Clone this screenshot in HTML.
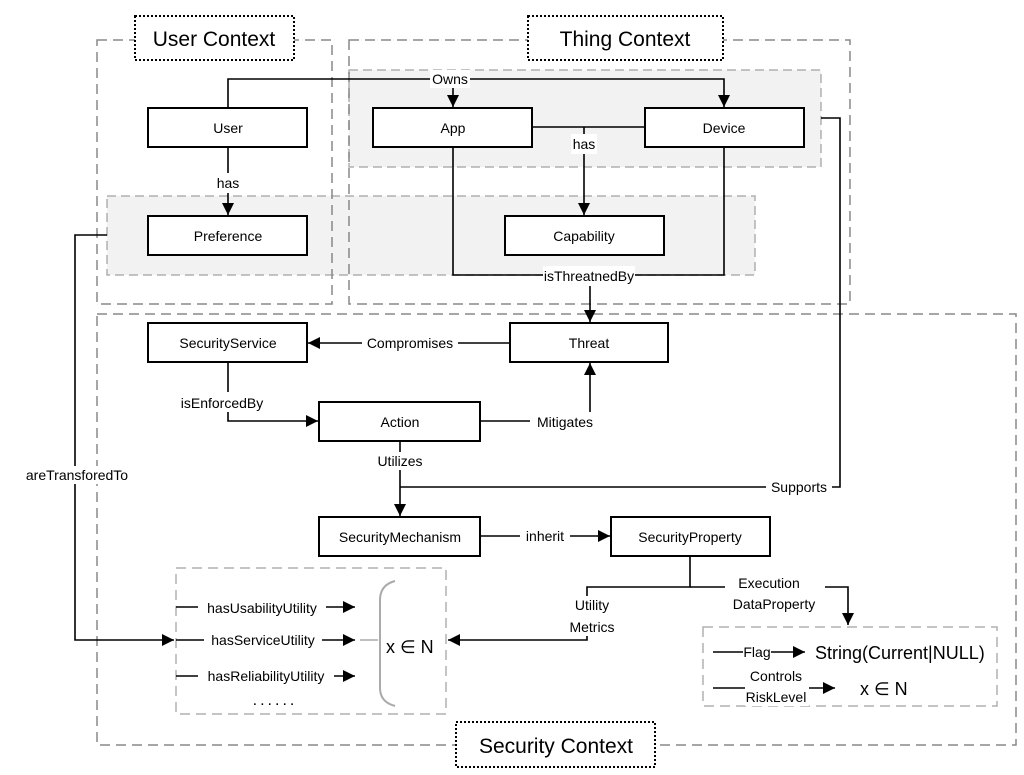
<!DOCTYPE html>
<html><head><meta charset="utf-8"><style>
html,body{margin:0;padding:0;background:#fff;}
svg{display:block;font-family:"Liberation Sans",sans-serif;}
</style></head><body>
<svg width="1024" height="775" viewBox="0 0 1024 775" xmlns="http://www.w3.org/2000/svg">
<defs>
<marker id="b" viewBox="0 0 10 10" refX="10" refY="5" markerWidth="12" markerHeight="12" markerUnits="userSpaceOnUse" orient="auto"><path d="M0,0L10,5L0,10z" fill="#000"/></marker>
</defs>
<rect x="349" y="70" width="472" height="97" fill="#f2f2f2" stroke="#b0b0b0" stroke-width="1.5" stroke-dasharray="9,5"/>
<rect x="107" y="196" width="648" height="79" fill="#f2f2f2" stroke="#b0b0b0" stroke-width="1.5" stroke-dasharray="9,5"/>
<g fill="none" stroke="#888" stroke-width="1.5" stroke-dasharray="10,6">
<rect x="97" y="40" width="235" height="264"/>
<rect x="349" y="40" width="501" height="264"/>
<rect x="97" y="314" width="919" height="431"/>
<rect x="176" y="568" width="270" height="146" stroke="#b0b0b0"/>
<rect x="703" y="627" width="294" height="79" stroke="#b0b0b0"/>
</g>
<g fill="#fff" stroke="#000" stroke-width="2" stroke-dasharray="2,2">
<rect x="135" y="16" width="159" height="44"/>
<rect x="528" y="16" width="195" height="44"/>
<rect x="456" y="722" width="199" height="45"/>
</g>
<g font-size="21" text-anchor="middle" fill="#000">
<text x="214" y="46">User Context</text>
<text x="625" y="46">Thing Context</text>
<text x="556" y="753">Security Context</text>
</g>
<g fill="none" stroke="#000" stroke-width="1.6">
<path d="M228,108V79H724V107" marker-end="url(#b)"/>
<path d="M453,79V107" marker-end="url(#b)"/>
<path d="M532,127H645"/>
<path d="M584,127V215" marker-end="url(#b)"/>
<path d="M228,147V215" marker-end="url(#b)"/>
<path d="M453,147V275H724V147"/>
<path d="M590,275V322" marker-end="url(#b)"/>
<path d="M821,118H840V487H400"/>
<path d="M510,343H308" marker-end="url(#b)"/>
<path d="M228,362V421H318" marker-end="url(#b)"/>
<path d="M480,421H590V363" marker-end="url(#b)"/>
<path d="M400,441V516" marker-end="url(#b)"/>
<path d="M480,536H610" marker-end="url(#b)"/>
<path d="M690,556V587H587V640H448" marker-end="url(#b)"/>
<path d="M690,587H848V625" marker-end="url(#b)"/>
<path d="M107,235H75V640H174" marker-end="url(#b)"/>
<path d="M176,607H355" marker-end="url(#b)"/>
<path d="M176,640H355" marker-end="url(#b)"/>
<path d="M176,676H355" marker-end="url(#b)"/>
<path d="M713,652H805" marker-end="url(#b)"/>
<path d="M713,688H835" marker-end="url(#b)"/>
</g>
<path d="M395,581Q380,585 380,600V688Q380,702 395,706" fill="none" stroke="#aaa" stroke-width="2"/>
<path d="M360,640H378" stroke="#aaa" stroke-width="1.5"/>
<g fill="#fff" stroke="#000" stroke-width="2">
<rect x="148" y="108" width="159" height="39"/>
<rect x="373" y="108" width="159" height="39"/>
<rect x="645" y="108" width="159" height="39"/>
<rect x="148" y="216" width="159" height="39"/>
<rect x="505" y="216" width="159" height="39"/>
<rect x="148" y="323" width="159" height="39"/>
<rect x="510" y="323" width="158" height="39"/>
<rect x="319" y="402" width="161" height="39"/>
<rect x="319" y="517" width="161" height="39"/>
<rect x="611" y="517" width="159" height="39"/>
</g>
<g font-size="14" text-anchor="middle" fill="#000">
<text x="228" y="133">User</text>
<text x="453" y="133">App</text>
<text x="724" y="133">Device</text>
<text x="228" y="241">Preference</text>
<text x="584" y="241">Capability</text>
<text x="228" y="348">SecurityService</text>
<text x="589" y="348">Threat</text>
<text x="400" y="427">Action</text>
<text x="400" y="542">SecurityMechanism</text>
<text x="690" y="542">SecurityProperty</text>
</g>
<g font-size="14" text-anchor="middle" fill="#000">
<rect x="430" y="70" width="40" height="18" fill="#fff"/>
<text x="450" y="84">Owns</text>
<rect x="571" y="134" width="26" height="20" fill="#fff"/>
<text x="584" y="149">has</text>
<rect x="213" y="173" width="30" height="20" fill="#fff"/>
<text x="228" y="188">has</text>
<rect x="543" y="266" width="92" height="20" fill="#fff"/>
<text x="589" y="281">isThreatnedBy</text>
<rect x="362" y="334" width="96" height="18" fill="#fff"/>
<text x="410" y="348">Compromises</text>
<rect x="166" y="392" width="122" height="20" fill="#fff"/>
<text x="222" y="408">isEnforcedBy</text>
<rect x="530" y="412" width="70" height="18" fill="#fff"/>
<text x="565" y="427">Mitigates</text>
<rect x="370" y="452" width="60" height="18" fill="#fff"/>
<text x="400" y="466">Utilizes</text>
<rect x="766" y="478" width="66" height="18" fill="#fff"/>
<text x="799" y="492">Supports</text>
<rect x="520" y="527" width="50" height="18" fill="#fff"/>
<text x="545" y="541">inherit</text>
<rect x="20" y="466" width="120" height="18" fill="#fff"/>
<text x="77" y="480">areTransforedTo</text>
<rect x="562" y="596" width="60" height="40" fill="#fff"/>
<text x="592" y="610">Utility</text>
<text x="592" y="632">Metrics</text>
<rect x="725" y="575" width="100" height="40" fill="#fff"/>
<text x="769" y="588">Execution</text>
<text x="774" y="609">DataProperty</text>
<rect x="198" y="599" width="128" height="18" fill="#fff"/>
<text x="262" y="613">hasUsabilityUtility</text>
<rect x="204" y="632" width="118" height="18" fill="#fff"/>
<text x="263" y="645">hasServiceUtility</text>
<rect x="198" y="668" width="136" height="18" fill="#fff"/>
<text x="266" y="681">hasReliabilityUtility</text>
<text x="275" y="705" font-size="16" letter-spacing="3">......</text>
<rect x="743" y="644" width="28" height="18" fill="#fff"/>
<text x="757" y="657">Flag</text>
<rect x="745" y="666" width="64" height="40" fill="#fff"/>
<text x="776" y="681">Controls</text>
<text x="776" y="702">RiskLevel</text>
</g>
<g font-size="18" fill="#000">
<text x="815" y="659">String(Current|NULL)</text>
<text x="860" y="695">x ∈ N</text>
<text x="386" y="653">x ∈ N</text>
</g>
</svg>
</body></html>
